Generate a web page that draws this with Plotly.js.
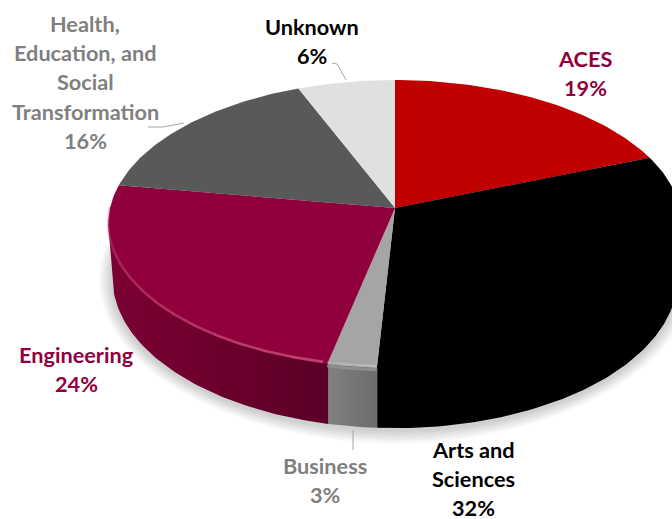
<!DOCTYPE html>
<html>
<head>
<meta charset="utf-8">
<script src="https://cdn.plot.ly/plotly-3.0.1.min.js"></script>
<style>html,body{margin:0;padding:0;background:#fff}#chart{width:672px;height:519px}</style>
</head>
<body>
<div id="chart"></div>
<script>
// Data, clockwise from 12 o'clock
const categories = ['ACES', 'Arts and Sciences', 'Business', 'Engineering', 'Health, Education, and Social Transformation', 'Unknown'];
const values = [19.0, 31.9, 2.5, 24.2, 16.3, 6.1];
const faceColors = ['#C00000', '#000000', '#A5A5A5', '#8F003D', '#595959', '#E0E0E0'];
const labelColors = ['#8F003D', '#000000', '#7F7F7F', '#8F003D', '#7F7F7F', '#000000'];
const labelLines = [['ACES'], ['Arts and', 'Sciences'], ['Business'], ['Engineering'], ['Health,', 'Education, and', 'Social', 'Transformation'], ['Unknown']];
const labelCenters = [[585, 59], [473, 450], [325, 466], [76, 355], [85, 24], [312, 27]];
const lineGap = 29.2;
const sideGradients = {
  1: ['#000000', '#000000'],
  2: ['#808080', '#6C6C6C'],
  3: ['#7C0034', '#5A0026']
};
const leaders = [
  [[332, 63], [337, 64], [346, 80]],
  [[148, 127], [163, 127], [184, 123]],
  [[353, 430], [353, 450]]
];

// Projection of the tilted disc
const cx = 395, cy = 208, a = 285, b = 142.2, p = 0.111, depth = 53.5, shrink = 0.985;
const rad = f => f * 2 * Math.PI;
function topRim(f) {
  const u = Math.sin(rad(f)), v = -Math.cos(rad(f)), w = 1 - p * v;
  return [cx + a * u / w, cy + b * v / w];
}
function lowRim(f) {
  const u = Math.sin(rad(f)), v = -Math.cos(rad(f)), w = 1 - p * v;
  return [cx + shrink * a * u / w, cy + (b * v + depth) / w];
}
// same rim pulled slightly toward the centre, so no seam shows under the face
function innerRim(f) {
  const q = topRim(f);
  return [cx + (q[0] - cx) * 0.985, cy + (q[1] - cy) * 0.985];
}
function arc(fn, f0, f1) {
  const n = Math.max(4, Math.ceil((f1 - f0) * 360));
  const pts = [];
  for (let i = 0; i <= n; i++) pts.push(fn(f0 + (f1 - f0) * i / n));
  return pts;
}
const total = values.reduce((s, v) => s + v, 0);
const stops = [0];
values.forEach(v => stops.push(stops[stops.length - 1] + v / total));

// silhouette points: where the top rim is widest to the right and to the left
function extreme(sign) {
  let best = 0, bestX = -Infinity;
  for (let f = 0; f < 1; f += 0.0005) {
    const x = sign * topRim(f)[0];
    if (x > bestX) { bestX = x; best = f; }
  }
  return best;
}
const fRight = extreme(1), fLeft = extreme(-1);

function poly(pts, extra) {
  const t = {
    type: 'scatter', mode: 'lines', x: pts.map(q => q[0]), y: pts.map(q => q[1]),
    fill: 'toself', line: { width: 0 }, hoverinfo: 'skip', showlegend: false
  };
  return Object.assign(t, extra);
}

const traces = [];

// soft shadow under the disc
for (let i = 8; i >= 1; i--) {
  const o = i * 1.7;
  const pts = arc(f => {
    const q = lowRim(f);
    const dx = q[0] - cx, dy = q[1] - (cy + depth + 16);
    const r = Math.hypot(dx, dy);
    return [q[0] + dx / r * o, q[1] + dy / r * o + 2];
  }, 0, 1);
  traces.push(poly(pts, { fillcolor: 'rgba(0,0,0,0.022)' }));
}

// side walls, limited to the visible front of the disc
Object.keys(sideGradients).forEach(k => {
  const i = +k;
  const f0 = Math.max(stops[i], fRight), f1 = Math.min(stops[i + 1], fLeft);
  const rim = arc(innerRim, f0, f1);
  if (f0 === fRight) rim.unshift(topRim(f0));
  if (f1 === fLeft) rim.push(topRim(f1));
  const low = arc(lowRim, f0, f1).reverse();
  const g = sideGradients[k];
  traces.push(poly(rim.concat(low, [rim[0]]), {
    fillgradient: { type: 'horizontal', colorscale: [[0, g[0]], [1, g[1]]] },
    name: categories[i] + ' side'
  }));
});

// top faces
categories.forEach((c, i) => {
  const pts = [[cx, cy]].concat(arc(topRim, stops[i], stops[i + 1]), [[cx, cy]]);
  traces.push(poly(pts, { fillcolor: faceColors[i], name: c }));
});

// rim highlight on the front edge
function rimLight(color, from, to, maxOp) {
  const n = 14;
  const span = to - from;
  for (let k = 0; k < n; k++) {
    const f0 = from + span * k / n, f1 = from + span * (k + 1) / n;
    const t = (k + 0.5) / n;
    const pts = arc(f => { const q = topRim(f); return [q[0], q[1] - 1.5]; }, f0, f1 + 0.0005);
    traces.push({
      type: 'scatter', mode: 'lines', x: pts.map(q => q[0]), y: pts.map(q => q[1]),
      line: { color: color, width: 2.6 }, opacity: maxOp * (0.25 + 0.75 * Math.pow(1 - t, 0.8)),
      hoverinfo: 'skip', showlegend: false
    });
  }
}
rimLight('#C8507E', stops[3] + 0.002, stops[3] + 0.215, 0.8);
rimLight('#C4C4C4', stops[2], stops[3], 0.7);
{
  const pts = arc(f => { const q = topRim(f); return [q[0], q[1] + 2]; }, stops[2], stops[3]);
  traces.push({
    type: 'scatter', mode: 'lines', x: pts.map(q => q[0]), y: pts.map(q => q[1]),
    line: { color: '#8E8E8E', width: 3 }, hoverinfo: 'skip', showlegend: false
  });
}

// leader lines
leaders.forEach(l => traces.push({
  type: 'scatter', mode: 'lines', x: l.map(q => q[0]), y: l.map(q => q[1]),
  line: { color: '#A6A6A6', width: 1 }, hoverinfo: 'skip', showlegend: false
}));

// labels
const annotations = [];
categories.forEach((c, i) => {
  const lines = labelLines[i].concat([Math.round(values[i]) + '%']);
  lines.forEach((t, j) => annotations.push({
    x: labelCenters[i][0], y: labelCenters[i][1] + j * lineGap,
    xref: 'x', yref: 'y', text: t, showarrow: false,
    xanchor: 'center', yanchor: 'middle',
    font: { family: 'Lato, "Open Sans", sans-serif', size: 21.7, color: labelColors[i], weight: 700 }
  }));
});

Plotly.newPlot('chart', traces, {
  width: 672, height: 519,
  margin: { l: 0, r: 0, t: 0, b: 0 },
  paper_bgcolor: '#fff', plot_bgcolor: '#fff',
  showlegend: false,
  xaxis: { range: [0, 672], visible: false, fixedrange: true },
  yaxis: { range: [519, 0], visible: false, fixedrange: true },
  annotations: annotations
}, { displayModeBar: false, staticPlot: true });
</script>
</body>
</html>
